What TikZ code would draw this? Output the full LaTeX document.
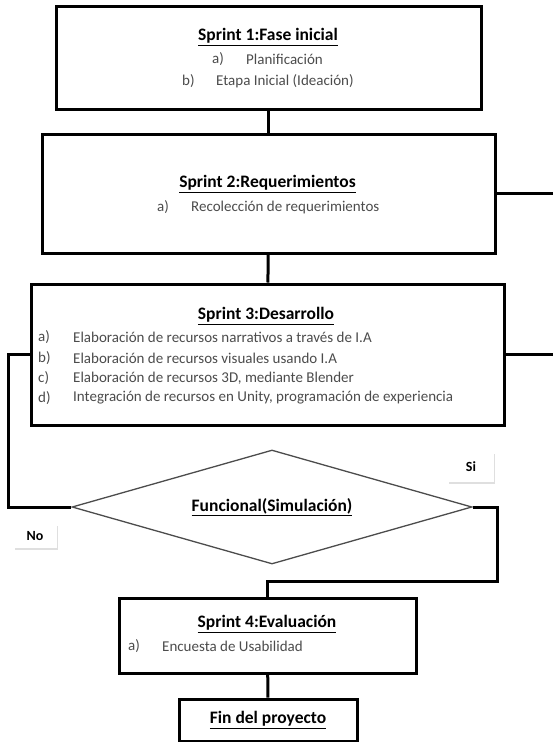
\documentclass[tikz,border=0pt]{standalone}
\usepackage{fontspec}
\setmainfont{Carlito}
\usetikzlibrary{shapes.geometric,shadows}
\begin{document}
\begin{tikzpicture}[x=1pt,y=-1pt]
  \useasboundingbox (0,0) rectangle (552,742);

  % Estilos.
  \tikzstyle{sprint}=[rectangle, draw, line width=3pt, fill=white, inner sep=0pt, drop shadow={shadow xshift=1.5pt, shadow yshift=-1.5pt, opacity=0.3}]
  \tikzstyle{titulo}=[inner sep=0pt, font=\fontsize{17.5}{19}\selectfont\bfseries]
  \tikzstyle{item}=[anchor=west, inner sep=0pt, text=black!70, font=\fontsize{15}{17}\selectfont]
  \tikzstyle{linea}=[line width=3pt]
  \tikzstyle{etiqueta}=[rectangle, fill=white, inner sep=0pt, font=\fontsize{14}{16}\selectfont\bfseries, drop shadow={shadow xshift=1pt, shadow yshift=-1.5pt, opacity=0.25}]

  % Sprint 1.
  \node[sprint, minimum width=425pt, minimum height=103pt] (s1) at (268.5,57.5) {};
  \node[titulo] (t1) at (268,37) {\underline{Sprint 1:Fase inicial}};
  \node[item] (s1a) at (212,59) {a)};
  \node[item] (s1at) at (246,59) {Planificación};
  \node[item] (s1b) at (182,81) {b)};
  \node[item] (s1bt) at (216,81) {Etapa Inicial (Ideación)};

  % Sprint 2.
  \node[sprint, minimum width=453pt, minimum height=119pt] (s2) at (268.5,193.5) {};
  \node[titulo] (t2) at (267.5,184) {\underline{Sprint 2:Requerimientos}};
  \node[item] (s2a) at (157,207) {a)};
  \node[item] (s2at) at (191,207) {Recolección de requerimientos};

  % Sprint 3.
  \node[sprint, minimum width=473pt, minimum height=141pt] (s3) at (267.5,354.5) {};
  \node[titulo] (t3) at (266,316) {\underline{Sprint 3:Desarrollo}};
  \node[item] (s3a) at (38,337) {a)};
  \node[item] (s3at) at (73,337) {Elaboración de recursos narrativos a través de I.A};
  \node[item] (s3b) at (38,358) {b)};
  \node[item] (s3bt) at (73,358) {Elaboración de recursos visuales usando I.A};
  \node[item] (s3c) at (38,378) {c)};
  \node[item] (s3ct) at (73,378) {Elaboración de recursos 3D, mediante Blender};
  \node[item] (s3d) at (38,398) {d)};
  \node[item] (s3dt) at (73,398) {Integración de recursos en Unity, programación de experiencia};

  % Decision.
  \node[diamond, draw=black!70, line width=1.3pt, fill=white, aspect=3.5, minimum width=400pt, minimum height=114pt, inner sep=0pt, font=\fontsize{17.5}{19}\selectfont\bfseries] (dia) at (272,507) {\underline{Funcional(Simulación)}};
  \node[etiqueta, minimum width=46pt, minimum height=30pt] (si) at (471,467) {Si};
  \node[etiqueta, minimum width=43pt, minimum height=24pt] (no) at (35,536) {No};

  % Sprint 4.
  \node[sprint, minimum width=297pt, minimum height=75pt] (s4) at (267.5,635.5) {};
  \node[titulo] (t4) at (267,624) {\underline{Sprint 4:Evaluación}};
  \node[item] (s4a) at (128,646) {a)};
  \node[item] (s4at) at (162,646) {Encuesta de Usabilidad};

  % Fin.
  \node[sprint, minimum width=178pt, minimum height=42pt, titulo] (fin) at (268,720) {\underline{Fin del proyecto}};

  % Conectores.
  \coordinate (izqA) at (8,354.5);
  \coordinate (izqB) at (8,507);
  \coordinate (derA) at (555,193.5);
  \coordinate (derB) at (555,354.5);
  \coordinate (codoA) at (497,507);
  \coordinate (codoB) at (497,581);

  \draw[linea] (s1) -- (s2);
  \draw[linea] (s2) -- (s3);
  \draw[linea] (s3.west) -- (izqA) -- (izqB) -- (dia.west);
  \draw[linea] (s2.east) -- (derA) -- (derB) -- (s3.east);
  \draw[linea] (dia.east) -- (codoA) -- (codoB) -| (s4.north);
  \draw[linea] (s4) -- (fin);
\end{tikzpicture}
\end{document}
